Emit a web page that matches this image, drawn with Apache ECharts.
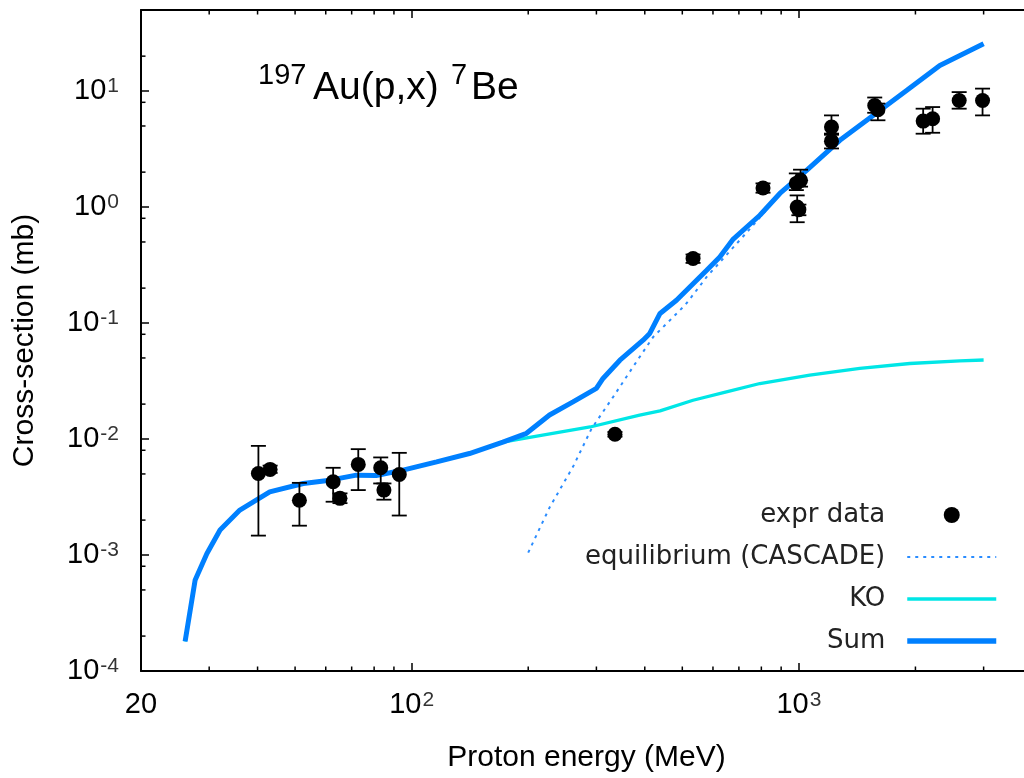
<!DOCTYPE html>
<html>
<head>
<meta charset="utf-8">
<title>197Au(p,x)7Be</title>
<script src="https://cdn.jsdelivr.net/npm/echarts@6/dist/echarts.min.js"></script>
<style>
  html, body { margin: 0; padding: 0; background: #fff; }
  #main { width: 1024px; height: 778px; }
</style>
</head>
<body>
<div id="main"></div>
<script>
// axis ranges and tick values
const xMin = 20, xMax = 4000;
const yMin = 1e-4, yMax = 50;
const xMinorTicks = [30, 40, 50, 60, 70, 80, 90, 200, 300, 400, 500, 600, 700, 800, 900, 2000, 3000];
const yMinorTicks = [2e-4, 5e-4, 8e-4, 2e-3, 5e-3, 8e-3, 2e-2, 5e-2, 8e-2, 0.2, 0.5, 0.8, 2, 5, 8, 20];

// Sum
const sumE = [26, 27.6, 29.6, 32, 36, 43, 52.5, 61.5, 72, 81, 95, 116, 141, 172, 198, 227, 261, 300, 312, 345, 396, 412, 438, 483, 578, 625, 677, 793, 893, 1047, 1276, 1555, 1897, 2312, 3000];
const sumVal = [1.8e-4, 6.1e-4, 1.03e-3, 1.64e-3, 2.44e-3, 3.5e-3, 4.14e-3, 4.42e-3, 4.88e-3, 4.85e-3, 5.39e-3, 6.36e-3, 7.5e-3, 9.4e-3, 1.12e-2, 1.61e-2, 2.09e-2, 2.73e-2, 3.33e-2, 4.78e-2, 7.11e-2, 8.13e-2, 0.121, 0.157, 0.285, 0.371, 0.53, 0.85, 1.31, 2.07, 3.76, 6.17, 10.1, 16.6, 25.6];

// KO
const koE = [26, 27.6, 29.6, 32, 36, 43, 52.5, 61.5, 72, 81, 95, 116, 141, 172, 200, 289, 388, 438, 533, 650, 793, 1067, 1437, 1934, 2604, 3000];
const koVal = [1.8e-4, 6.1e-4, 1.03e-3, 1.64e-3, 2.44e-3, 3.5e-3, 4.14e-3, 4.42e-3, 4.88e-3, 4.85e-3, 5.39e-3, 6.36e-3, 7.5e-3, 9.4e-3, 1.03e-2, 1.27e-2, 1.61e-2, 1.75e-2, 2.16e-2, 2.55e-2, 3.01e-2, 3.55e-2, 4.06e-2, 4.48e-2, 4.72e-2, 4.8e-2];

// equilibrium (CASCADE)
const casE = [200, 227.5, 261, 291.5, 331.5, 373, 420.6, 508, 528, 578, 732, 893, 1047, 1276, 1555, 1897, 2312, 3000];
const casVal = [1.05e-3, 2.6e-3, 5.76e-3, 1.23e-2, 2.31e-2, 4.19e-2, 7.59e-2, 0.1425, 0.168, 0.25, 0.6, 1.28, 2.03, 3.72, 6.13, 10.05, 16.55, 25.55];

// expr data with error bars
const expE  = [40.2, 43.1, 51.3, 62.7, 65.3, 72.8, 83.2, 84.8, 92.9, 335, 533, 808, 985, 1010, 990, 1000, 1214, 1214, 1570, 1600, 2094, 2215, 2594, 2981];
const expVal = [5.05e-3, 5.47e-3, 2.97e-3, 4.28e-3, 3.08e-3, 6.04e-3, 5.65e-3, 3.63e-3, 4.95e-3, 1.10e-2, 0.36, 1.46, 1.6, 1.7, 1.0, 0.95, 4.9, 3.7, 7.5, 6.9, 5.51, 5.78, 8.3, 8.3];
const expLo = [1.47e-3, 5.1e-3, 1.79e-3, 2.88e-3, 2.8e-3, 3.63e-3, 4.14e-3, 3.0e-3, 2.19e-3, 1.05e-2, 0.33, 1.33, 1.4, 1.5, 0.74, 0.85, 4.3, 3.2, 6.5, 5.6, 4.29, 4.37, 7.05, 6.17];
const expHi = [8.73e-3, 5.9e-3, 4.19e-3, 5.65e-3, 3.4e-3, 8.18e-3, 6.94e-3, 4.14e-3, 7.6e-3, 1.15e-2, 0.39, 1.6, 1.95, 2.1, 1.26, 1.05, 6.17, 4.2, 8.8, 7.8, 7.05, 7.28, 9.8, 10.5];

const FONT = 'Liberation Sans';

function pairs(xs, ys) {
  return xs.map((x, i) => [x, ys[i]]);
}

function powLabel(v, allow20) {
  const e = Math.round(Math.log10(v));
  if (Math.abs(v / Math.pow(10, e) - 1) < 1e-6) {
    return '{b|10}{s|' + e + '}';
  }
  if (allow20 && Math.abs(v - 20) < 1e-6) return '{b|20}';
  return '';
}

const labelRich = {
  b: { fontSize: 29, lineHeight: 30, color: '#000', fontFamily: FONT },
  s: { fontSize: 21, lineHeight: 20, verticalAlign: 'top', color: '#333', fontFamily: FONT, padding: [0, 0, 0, 1] }
};

const chart = echarts.init(document.getElementById('main'));

const option = {
  animation: false,
  textStyle: { fontFamily: FONT },
  grid: { left: 141, right: -8, top: 10, bottom: 107, outerBoundsMode: 'none' },
  legend: {
    orient: 'vertical',
    right: 20,
    top: 497,
    align: 'right',
    itemWidth: 89,
    itemHeight: 16,
    itemGap: 16,
    selectedMode: false,
    textStyle: { fontSize: 26, color: '#222', fontFamily: 'DejaVu Sans', padding: [0, 17, 0, 0] },
    data: [
      { name: 'expr data', itemStyle: { color: '#000', opacity: 1 } },
      { name: 'equilibrium (CASCADE)', itemStyle: { opacity: 0 }, lineStyle: { width: 2 } },
      { name: 'KO', itemStyle: { opacity: 0 }, lineStyle: { width: 3.3 } },
      { name: 'Sum', itemStyle: { opacity: 0 }, lineStyle: { width: 5.5 } }
    ]
  },
  graphic: [
    { type: 'text', x: 258, y: 76, style: { text: '197', fontSize: 29, fontFamily: FONT, fill: '#000', align: 'left', verticalAlign: 'middle' } },
    { type: 'text', x: 313, y: 88, style: { text: 'Au(p,x)', fontSize: 39, fontFamily: FONT, fill: '#000', align: 'left', verticalAlign: 'middle' } },
    { type: 'text', x: 451, y: 76, style: { text: '7', fontSize: 29, fontFamily: FONT, fill: '#000', align: 'left', verticalAlign: 'middle' } },
    { type: 'text', x: 471, y: 88, style: { text: 'Be', fontSize: 39, fontFamily: FONT, fill: '#000', align: 'left', verticalAlign: 'middle' } }
  ],
  xAxis: [
    {
      type: 'log',
      min: xMin,
      max: xMax,
      position: 'bottom',
      name: 'Proton energy (MeV)',
      nameLocation: 'middle',
      nameGap: 72,
      nameTextStyle: { fontSize: 30, color: '#000', fontFamily: FONT },
      axisLine: { lineStyle: { color: '#000', width: 2 } },
      axisTick: { inside: true, length: 8, lineStyle: { color: '#000', width: 1.5 } },
      axisLabel: { margin: 19, formatter: v => powLabel(v, true), rich: labelRich },
      splitLine: { show: false }
    },
    {
      type: 'log',
      min: xMin,
      max: xMax,
      position: 'top',
      axisLine: { lineStyle: { color: '#000', width: 2 } },
      axisTick: { inside: true, length: 8, lineStyle: { color: '#000', width: 1.5 } },
      axisLabel: { show: false },
      splitLine: { show: false }
    }
  ],
  yAxis: {
    type: 'log',
    min: yMin,
    max: yMax,
    name: 'Cross-section (mb)',
    nameLocation: 'middle',
    nameGap: 101,
    nameTextStyle: { fontSize: 30, color: '#000', fontFamily: FONT },
    axisLine: { lineStyle: { color: '#000', width: 2 } },
    axisTick: { inside: true, length: 8, lineStyle: { color: '#000', width: 1.5 } },
    axisLabel: { margin: 22, formatter: v => powLabel(v, false), rich: labelRich },
    splitLine: { show: false }
  },
  series: [
    {
      name: 'KO',
      type: 'line',
      data: pairs(koE, koVal),
      symbol: 'none',
      lineStyle: { color: '#00e6e6', width: 3.3 },
      itemStyle: { color: '#00e6e6' },
      z: 2
    },
    {
      name: 'equilibrium (CASCADE)',
      type: 'line',
      data: pairs(casE, casVal),
      symbol: 'none',
      lineStyle: { color: '#2a8cff', width: 2, type: [3, 5] },
      itemStyle: { color: '#2a8cff' },
      z: 2
    },
    {
      name: 'Sum',
      type: 'line',
      data: pairs(sumE, sumVal),
      symbol: 'none',
      lineStyle: { color: '#0080ff', width: 5 },
      itemStyle: { color: '#0080ff' },
      z: 3
    },
    {
      name: 'errors',
      type: 'custom',
      silent: true,
      encode: { x: 0, y: [1, 2] },
      data: expE.map((e, i) => [e, expLo[i], expHi[i]]),
      renderItem: function (params, api) {
        const x = api.value(0);
        const lo = api.coord([x, api.value(1)]);
        const hi = api.coord([x, api.value(2)]);
        const w = 7.5;
        const st = { stroke: '#000', lineWidth: 1.8 };
        return {
          type: 'group',
          children: [
            { type: 'line', shape: { x1: lo[0], y1: lo[1], x2: hi[0], y2: hi[1] }, style: st },
            { type: 'line', shape: { x1: lo[0] - w, y1: lo[1], x2: lo[0] + w, y2: lo[1] }, style: st },
            { type: 'line', shape: { x1: hi[0] - w, y1: hi[1], x2: hi[0] + w, y2: hi[1] }, style: st }
          ]
        };
      },
      z: 4
    },
    {
      name: 'expr data',
      type: 'scatter',
      data: pairs(expE, expVal),
      symbol: 'circle',
      symbolSize: 15,
      itemStyle: { color: '#000', opacity: 1 },
      z: 5
    },
    {
      // minor ticks on bottom and top borders
      name: 'xminor',
      type: 'custom',
      silent: true,
      clip: false,
      data: xMinorTicks.map(v => [v, yMin]),
      renderItem: function (params, api) {
        const b = api.coord([api.value(0), yMin]);
        const t = api.coord([api.value(0), yMax]);
        const st = { stroke: '#000', lineWidth: 1.5 };
        return {
          type: 'group',
          children: [
            { type: 'line', shape: { x1: b[0], y1: b[1], x2: b[0], y2: b[1] - 4.5 }, style: st },
            { type: 'line', shape: { x1: t[0], y1: t[1], x2: t[0], y2: t[1] + 4.5 }, style: st }
          ]
        };
      },
      z: 6
    },
    {
      // minor ticks on left border
      name: 'yminor',
      type: 'custom',
      silent: true,
      clip: false,
      data: yMinorTicks.map(v => [xMin, v]),
      renderItem: function (params, api) {
        const p = api.coord([xMin, api.value(1)]);
        return {
          type: 'line',
          shape: { x1: p[0], y1: p[1], x2: p[0] + 4.5, y2: p[1] },
          style: { stroke: '#000', lineWidth: 1.5 }
        };
      },
      z: 6
    }
  ]
};

chart.setOption(option);
</script>
</body>
</html>
